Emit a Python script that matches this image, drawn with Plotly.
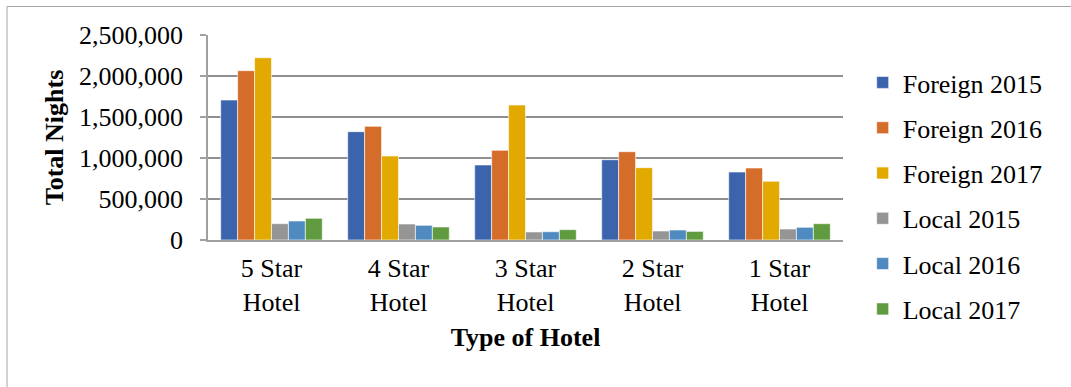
import plotly.graph_objects as go

categories = ["5 Star<br>Hotel", "4 Star<br>Hotel", "3 Star<br>Hotel", "2 Star<br>Hotel", "1 Star<br>Hotel"]
series_names = ["Foreign 2015", "Foreign 2016", "Foreign 2017", "Local 2015", "Local 2016", "Local 2017"]
foreign_2015 = [1707000, 1321000, 915000, 979000, 829000]
foreign_2016 = [2065000, 1386000, 1094000, 1077000, 878000]
foreign_2017 = [2223000, 1024000, 1646000, 882000, 716000]
local_2015 = [199000, 195000, 98000, 110000, 134000]
local_2016 = [232000, 179000, 101000, 122000, 155000]
local_2017 = [265000, 159000, 126000, 105000, 199000]
y_ticks = [0, 500000, 1000000, 1500000, 2000000, 2500000]
y_tick_labels = ["0", "500,000", "1,000,000", "1,500,000", "2,000,000", "2,500,000"]

colors = ["#3B64AD", "#D56D2A", "#E2AA00", "#959595", "#4F8BC0", "#609C3F"]
values = [foreign_2015, foreign_2016, foreign_2017, local_2015, local_2016, local_2017]

FONT = "Liberation Serif"
fig = go.Figure()
for i, (name, vals, col) in enumerate(zip(series_names, values, colors)):
    fig.add_trace(go.Bar(
        x=categories, y=vals, name=name,
        marker=dict(color=col, line=dict(color="rgba(255,255,255,0.6)", width=1)),
        legendgroup=name,
    ))

W, H = 1071, 387
L, R, T, B = 208, 843, 35, 240
fig.update_layout(
    width=W, height=H,
    margin=dict(l=L, r=W - R, t=T, b=H - B, autoexpand=False),
    paper_bgcolor="white", plot_bgcolor="white",
    barmode="group", bargap=0.2, bargroupgap=0,
    font=dict(family=FONT, size=26, color="black"),
    legend=dict(
        x=1.031, y=(B - 196) / (B - T), xanchor="left", yanchor="middle",
        font=dict(family=FONT, size=26, color="black"),
        tracegroupgap=8.5, itemwidth=30, maxheight=380,
        bgcolor="rgba(0,0,0,0)",
    ),
    xaxis=dict(
        showline=True, linecolor="#A0A0A0", linewidth=1.5,
        ticks="", showgrid=False, automargin=False,
        tickfont=dict(family=FONT, size=26, color="black"),
        ticklabelstandoff=4,
        title=dict(text="<b>Type of Hotel</b>", font=dict(family=FONT, size=26, color="black"), standoff=12),
    ),
    yaxis=dict(
        range=[0, 2500000], automargin=False,
        tickvals=y_ticks, ticktext=y_tick_labels,
        showline=True, linecolor="#A0A0A0", linewidth=1.5,
        ticks="outside", ticklen=6, tickcolor="#A0A0A0", tickwidth=1.5,
        showgrid=True, gridcolor="#8F8F8F", gridwidth=1.5,
        zeroline=False,
        tickfont=dict(family=FONT, size=26, color="black"),
        ticklabelstandoff=12,
        title=dict(text="<b>Total Nights</b>", font=dict(family=FONT, size=26, color="black"), standoff=8),
    ),
    shapes=[dict(
        type="rect", xref="paper", yref="paper",
        x0=(7 - L) / (R - L), x1=(1090 - L) / (R - L),
        y0=(B - 420) / (B - T), y1=(B - 6.5) / (B - T),
        line=dict(color="#A6A6A6", width=1), fillcolor="rgba(0,0,0,0)", layer="below",
    )],
)

fig.write_html("out.html")
